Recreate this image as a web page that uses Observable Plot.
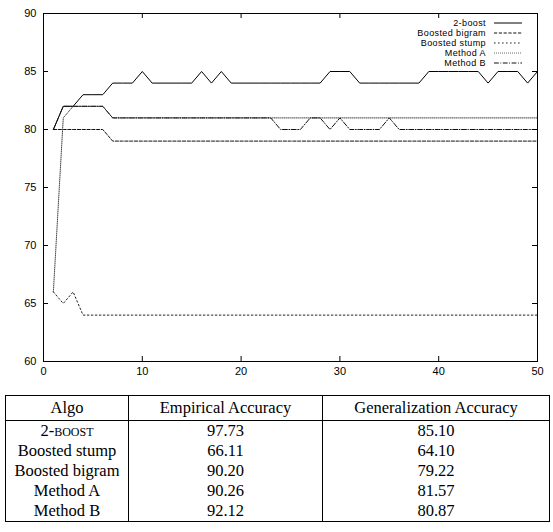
<!DOCTYPE html>
<html><head><meta charset="utf-8">
<script src="https://cdn.jsdelivr.net/npm/d3@7"></script>
<script src="https://cdn.jsdelivr.net/npm/@observablehq/plot@0.6"></script>
<style>
body{margin:0;background:#fff;}
#wrap{position:relative;width:553px;height:532px;overflow:hidden;}
#chart svg{display:block;}
#legend{position:absolute;left:0;top:0;}
table{border-collapse:collapse;table-layout:fixed;font-family:"Liberation Serif","Times New Roman",serif;font-size:16.5px;margin-left:5px;margin-top:10px;color:#000;border:1px solid #000;}
th,td{font-weight:normal;text-align:center;padding:0;border-left:1px solid #000;border-right:1px solid #000;line-height:20px;height:20px;white-space:nowrap;}
thead th{border-bottom:1px solid #000;height:24px;line-height:24px;}
.sc{font-variant:small-caps;}
</style>
</head><body>
<div id="wrap"><div id="chart"></div><svg id="legend" width="553" height="80"></svg>
<table id="tbl"><colgroup><col style="width:123px"><col style="width:194px"><col style="width:227px"></colgroup><thead></thead><tbody></tbody></table>
</div>
<script>
const iterations = [1,2,3,4,5,6,7,8,9,10,11,12,13,14,15,16,17,18,19,20,21,22,23,24,25,26,27,28,29,30,31,32,33,34,35,36,37,38,39,40,41,42,43,44,45,46,47,48,49,50];
const twoBoost = [80,82,82,83,83,83,84,84,84,85, 84,84,84,84,84,85,84,85,84,84, 84,84,84,84,84,84,84,84,85,85, 85,84,84,84,84,84,84,84,85,85, 85,85,85,85,84,85,85,85,84,85];
const boostedBigram = [80,80,80,80,80,80,79,79,79,79, 79,79,79,79,79,79,79,79,79,79, 79,79,79,79,79,79,79,79,79,79, 79,79,79,79,79,79,79,79,79,79, 79,79,79,79,79,79,79,79,79,79];
const boostedStump = [66,65,66,64,64,64,64,64,64,64, 64,64,64,64,64,64,64,64,64,64, 64,64,64,64,64,64,64,64,64,64, 64,64,64,64,64,64,64,64,64,64, 64,64,64,64,64,64,64,64,64,64];
const methodA = [66,81,82,82,82,82,81,81,81,81, 81,81,81,81,81,81,81,81,81,81, 81,81,81,81,81,81,81,81,81,81, 81,81,81,81,81,81,81,81,81,81, 81,81,81,81,81,81,81,81,81,81];
const methodB = [80,82,82,82,82,82,81,81,81,81, 81,81,81,81,81,81,81,81,81,81, 81,81,81,80,80,80,81,81,80,81, 80,80,80,80,81,80,80,80,80,80, 80,80,80,80,80,80,80,80,80,80];
const seriesNames = ["2-boost","Boosted bigram","Boosted stump","Method A","Method B"];
const xTicks = [0,10,20,30,40,50];
const yTicks = [60,65,70,75,80,85,90];

const tableHeader = ["Algo","Empirical Accuracy","Generalization Accuracy"];
const tableAlgos = ["2-boost","Boosted stump","Boosted bigram","Method A","Method B"];
const empirical = ["97.73","66.11","90.20","90.26","92.12"];
const generalization = ["85.10","64.10","79.22","81.57","80.87"];

const seriesValues = [twoBoost, boostedBigram, boostedStump, methodA, methodB];
const dashes = [null, "3.2,1.6", "1.6,2.4", "0.8,1.2", "4.8,1.6,0.8,1.6"];
const strokes = ["#000","#111","#222","#444","#111"];

const W = 553, H = 385, mL = 43, mR = 16, mT = 13, mB = 24;
const fw = W - mL - mR, fh = H - mT - mB, tl = 5;

const lineMarks = seriesValues.map((vals, s) =>
  Plot.line(iterations.map((it, i) => ({it, v: vals[i]})), {
    x: "it", y: "v", stroke: strokes[s], strokeWidth: 1,
    strokeDasharray: dashes[s] || undefined
  })
);

const chart = Plot.plot({
  width: W, height: H,
  marginLeft: mL, marginRight: mR, marginTop: mT, marginBottom: mB,
  x: {domain: [0, 50]},
  y: {domain: [60, 90]},
  style: {fontFamily: "'Liberation Sans', Arial, Helvetica, sans-serif", fontSize: "11px", color: "#000", background: "#fff"},
  marks: [
    ...lineMarks,
    Plot.tickX(xTicks, {x: d => d, insetTop: fh - tl, stroke: "#000"}),
    Plot.tickX(xTicks, {x: d => d, insetBottom: fh - tl, stroke: "#000"}),
    Plot.tickY(yTicks, {y: d => d, insetLeft: fw - tl, stroke: "#000"}),
    Plot.tickY(yTicks, {y: d => d, insetRight: fw - tl, stroke: "#000"}),
    Plot.axisX(xTicks, {tickSize: 0, tickPadding: 6, label: null, fontSize: 11}),
    Plot.axisY(yTicks, {tickSize: 0, tickPadding: 7, label: null, fontSize: 11}),
    Plot.frame({stroke: "#000", strokeWidth: 1})
  ]
});
document.getElementById("chart").appendChild(chart);

// legend
const lg = d3.select("#legend");
seriesNames.forEach((name, i) => {
  const y = 23 + i * 10;
  lg.append("text").attr("x", 486).attr("y", y).attr("dy", "0.35em")
    .attr("text-anchor", "end")
    .style("font-family", "'Liberation Sans', Arial, Helvetica, sans-serif")
    .style("font-size", "9px").style("letter-spacing", "0.4px")
    .attr("fill", "#000").text(name);
  const ln = lg.append("line").attr("x1", 494).attr("x2", 522).attr("y1", y).attr("y2", y)
    .attr("stroke", strokes[i]).attr("stroke-width", 1);
  if (dashes[i]) ln.attr("stroke-dasharray", dashes[i]);
});

// table
const thead = d3.select("#tbl thead").append("tr");
tableHeader.forEach(h => thead.append("th").text(h));
const tbody = d3.select("#tbl tbody");
tableAlgos.forEach((a, i) => {
  const tr = tbody.append("tr");
  const c = tr.append("td");
  if (a === "2-boost") c.attr("class", "sc");
  c.text(a);
  tr.append("td").text(empirical[i]);
  tr.append("td").text(generalization[i]);
});
</script>
</body></html>
